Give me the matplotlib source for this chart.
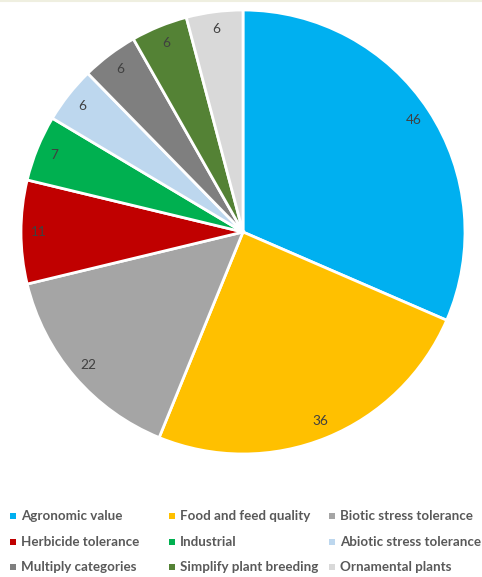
import matplotlib
matplotlib.use("Agg")
import matplotlib.pyplot as plt
from matplotlib.patches import Rectangle
from matplotlib.lines import Line2D

categories = [
    "Agronomic value", "Food and feed quality", "Biotic stress tolerance",
    "Herbicide tolerance", "Industrial", "Abiotic stress tolerance",
    "Multiply categories", "Simplify plant breeding", "Ornamental plants",
]
counts = [46, 36, 22, 11, 7, 6, 6, 6, 6]
colors = [
    "#00B0F0", "#FFC000", "#A5A5A5", "#C00000", "#00B050",
    "#BDD7EE", "#7F7F7F", "#548235", "#D9D9D9",
]

W, H = 482, 577
fig = plt.figure(figsize=(W / 100, H / 100), dpi=100)

# pie area: centre (243, 232) px, radius 222 px
cx, cy, r = 243, 232, 222
ax = fig.add_axes([(cx - r) / W, (H - cy - r) / H, 2 * r / W, 2 * r / H])
wedges, texts = ax.pie(
    counts, colors=colors, startangle=90, counterclock=False,
    labels=[str(v) for v in counts], labeldistance=0.92,
    wedgeprops=dict(edgecolor="white", linewidth=2),
    textprops=dict(color="#404040", fontsize=9.8, family="Lato"),
)
for t in texts:
    t.set_ha("center")
    t.set_va("center")
ax.set_xlim(-1.0, 1.0)
ax.set_ylim(-1.0, 1.0)
ax.set_aspect("equal")
ax.axis("off")

# thin rule along the top edge
fig.add_artist(Line2D([0, 1], [1 - 1 / H, 1 - 1 / H], color="#EFEFE0", lw=1.5,
                      transform=fig.transFigure))

# legend: three columns, row-major order
col_x = [10, 169, 329]
row_y = [516, 542, 567]
for i, (name, col) in enumerate(zip(categories, colors)):
    x = col_x[i % 3]
    y = row_y[i // 3]
    s = 6
    fig.add_artist(Rectangle(((x) / W, (H - y - s / 2) / H), s / W, s / H,
                             facecolor=col, edgecolor="none",
                             transform=fig.transFigure))
    fig.text((x + 11) / W, (H - y) / H, name, ha="left", va="center",
             fontsize=9.6, fontweight="bold", color="#595959", family="Lato")

fig.savefig("out.png", dpi=100, facecolor="white")
